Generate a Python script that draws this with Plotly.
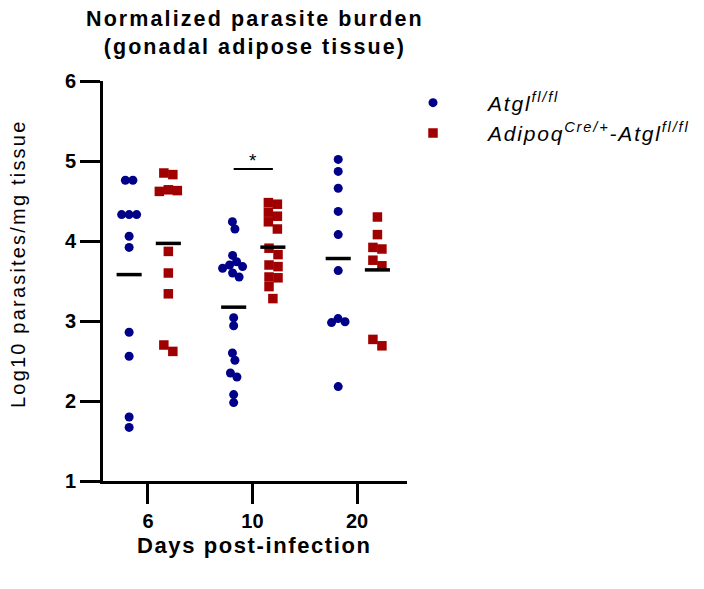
import numpy as np
import plotly.graph_objects as go

# ---------------- data ----------------
days = ["6", "10", "20"]
series_names = ["Atgl<sup>fl/fl</sup>", "Adipoq<sup>Cre/+</sup>-Atgl<sup>fl/fl</sup>"]

ctrl_d6 = [4.76, 4.76, 4.33, 4.33, 4.33, 4.06, 3.92, 2.86, 2.56, 1.80, 1.67]
ctrl_d10 = [4.24, 4.15, 3.82, 3.74, 3.70, 3.68, 3.66, 3.60, 3.55,
            3.04, 2.94, 2.60, 2.51, 2.35, 2.30, 2.08, 1.98]
ctrl_d20 = [5.02, 4.87, 4.66, 4.37, 4.08, 3.63, 3.03, 2.99, 2.98, 2.18]

ko_d6 = [4.85, 4.83, 4.64, 4.63, 4.62, 3.87, 3.60, 3.34, 2.70, 2.62]
ko_d10 = [4.48, 4.46, 4.36, 4.31, 4.24, 4.15, 3.91, 3.83, 3.70, 3.68,
          3.55, 3.54, 3.43, 3.28]
ko_d20 = [4.30, 4.08, 3.92, 3.90, 3.76, 3.69, 2.77, 2.69]

significance_label = "*"
sig_day_index = 1
sig_height = 4.9

# ---------------- layout constants ----------------
W, H = 704, 589
BODY = 8                      # default page margin of the html body
PL, PR, PT, PB = 103, 407, 81, 481   # plot area in page pixels
ML, MT = PL - BODY, PT - BODY
MR = W - ML - (PR - PL)
MB = H - MT - (PB - PT)
XR = [-0.43, 2.478]
YR = [1, 6]
PX_X = (PR - PL) / (XR[1] - XR[0])
PX_Y = (PB - PT) / (YR[1] - YR[0])


def px2paper_x(p):
    return (p - PL) / (PR - PL)


def px2paper_y(p):
    return (PB - p) / (PB - PT)


BLUE = "#000088"
RED = "#A00000"
FONT = "Liberation Sans, Arial, sans-serif"
CTRL_SHIFT, KO_SHIFT = -0.18, 0.195


def ls(text, px, size):
    return f'<span style="letter-spacing:{px}px;font-size:{size}px">{text}</span>'


def swarm(values, size, square):
    """simple beeswarm: horizontal offsets (in x data units) avoiding overlap"""
    vals = np.asarray(values, float)
    ypx = vals * PX_Y
    n = len(vals)
    xs = np.zeros(n)
    placed = []

    def dist(xa, ya, xb, yb):
        if square:
            return max(abs(xa - xb), abs(ya - yb))
        return np.hypot(xa - xb, ya - yb)

    for i in np.argsort(-vals, kind="stable"):
        found = None
        for mag in np.arange(0, 80, 0.5):
            for sgn in (1, -1):
                x = sgn * mag
                if all(dist(x, ypx[i], xs[j], ypx[j]) >= size for j in placed):
                    found = x
                    break
            if found is not None:
                break
        xs[i] = found
        placed.append(i)
    # centre each touching cluster around 0
    seen = np.zeros(n, bool)
    for s in range(n):
        if seen[s]:
            continue
        comp, stack = [], [s]
        seen[s] = True
        while stack:
            a = stack.pop()
            comp.append(a)
            for b in range(n):
                if not seen[b] and dist(xs[a], ypx[a], xs[b], ypx[b]) < size * 1.25:
                    seen[b] = True
                    stack.append(b)
        xs[comp] -= xs[comp].mean()
    return xs / PX_X


ctrl = [ctrl_d6, ctrl_d10, ctrl_d20]
ko = [ko_d6, ko_d10, ko_d20]

fig = go.Figure()
shapes = []

for groups, shift, color, symbol, name, sq in [
        (ctrl, CTRL_SHIFT, BLUE, "circle", series_names[0], False),
        (ko, KO_SHIFT, RED, "square", series_names[1], True)]:
    xs_all, ys_all = [], []
    for di, vals in enumerate(groups):
        offs = swarm(vals, 7.5 if not sq else 9.0, sq)
        xs_all += list(di + shift + offs)
        ys_all += list(vals)
        m = float(np.mean(vals))
        shapes.append(dict(type="line", xref="x", yref="y",
                           x0=di + shift - 0.12, x1=di + shift + 0.12,
                           y0=m, y1=m, line=dict(color="black", width=3.5)))
    fig.add_trace(go.Scatter(
        x=xs_all, y=ys_all, mode="markers", name=ls(name, 1.8, 21),
        marker=dict(color=color, symbol=symbol, size=9 if not sq else 9.5,
                    line=dict(width=0)),
        showlegend=True))

# significance bar
shapes.append(dict(type="line", xref="x", yref="y",
                   x0=sig_day_index + CTRL_SHIFT, x1=sig_day_index + KO_SHIFT,
                   y0=sig_height, y1=sig_height,
                   line=dict(color="black", width=2)))

annotations = [
    dict(text=significance_label, x=sig_day_index + (CTRL_SHIFT + KO_SHIFT) / 2,
         y=sig_height, xref="x", yref="y", yanchor="bottom", showarrow=False,
         yshift=-4, font=dict(size=19, color="black", family=FONT)),
    dict(text=ls("<b>Normalized parasite burden</b>", 2.1, 21.5) + "<br>" +
         ls("<b>(gonadal adipose tissue)</b>", 2.1, 21.5),
         x=px2paper_x(255), y=px2paper_y(33), xref="paper", yref="paper",
         xanchor="center", yanchor="middle", showarrow=False,
         font=dict(size=21.5, color="black", family=FONT)),
    dict(text=ls("<b>Days post-infection</b>", 1.6, 22),
         x=px2paper_x(254), y=px2paper_y(545), xref="paper", yref="paper",
         xanchor="center", yanchor="middle", showarrow=False,
         font=dict(size=22, color="black", family=FONT)),
    dict(text=ls("Log10 parasites/mg tissue", 2.2, 20),
         x=px2paper_x(18), y=px2paper_y(264),
         xref="paper", yref="paper", textangle=-90,
         xanchor="center", yanchor="middle", showarrow=False,
         font=dict(size=20, color="black", family=FONT)),
]

fig.update_layout(
    width=W, height=H,
    margin=dict(l=ML, r=MR, t=MT, b=MB, pad=0, autoexpand=False),
    plot_bgcolor="white", paper_bgcolor="white",
    font=dict(family=FONT, color="black"),
    shapes=shapes,
    annotations=annotations,
    showlegend=True,
    legend=dict(x=px2paper_x(378), y=px2paper_y(82.5),
                xanchor="left", yanchor="top",
                font=dict(size=21, style="italic", family=FONT, color="black"),
                itemwidth=100, bgcolor="rgba(0,0,0,0)", tracegroupgap=0),
    xaxis=dict(range=XR, tickvals=[0, 1, 2], ticktext=days,
               showline=True, linewidth=3, linecolor="black",
               ticks="outside", ticklen=20, tickwidth=3, tickcolor="black",
               showgrid=False, zeroline=False,
               tickfont=dict(size=20, family=FONT, color="black", weight="bold")),
    yaxis=dict(range=YR, tickvals=[1, 2, 3, 4, 5, 6],
               showline=True, linewidth=3, linecolor="black",
               ticks="outside", ticklen=20, tickwidth=3, tickcolor="black",
               showgrid=False, zeroline=False,
               tickfont=dict(size=20, family=FONT, color="black", weight="bold")),
)

fig.write_html("out.html")
